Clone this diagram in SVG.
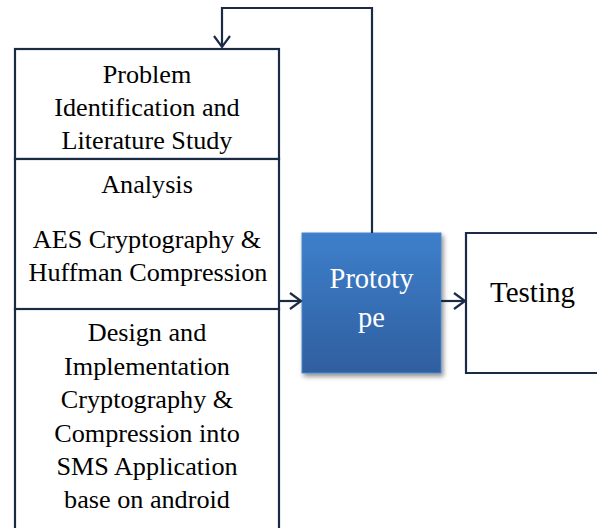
<svg xmlns="http://www.w3.org/2000/svg" width="597" height="528" viewBox="0 0 597 528">
<style>
.box{fill:#fff;stroke:#1c2b45;stroke-width:2.2}
.ln{fill:none;stroke:#1c2b45;stroke-width:2.2}
text{font-family:'Liberation Serif','Times New Roman',Times,serif}
.t{font-size:26.2px;fill:#000;text-anchor:middle}
.tw{font-size:28.5px;fill:#fff;text-anchor:middle}
.tb{font-size:29px;fill:#000}
</style>
<defs>
<linearGradient id="g" x1="0" y1="0" x2="0" y2="1">
<stop offset="0" stop-color="#3d7fcb"/>
<stop offset="1" stop-color="#2f5f9f"/>
</linearGradient>
<filter id="sh" x="-10%" y="-10%" width="130%" height="130%">
<feGaussianBlur in="SourceAlpha" stdDeviation="2.5"/>
<feOffset dx="2" dy="3" result="b"/>
<feComponentTransfer><feFuncA type="linear" slope="0.45"/></feComponentTransfer>
<feMerge><feMergeNode/><feMergeNode in="SourceGraphic"/></feMerge>
</filter>
<marker id="a" markerWidth="14" markerHeight="18" refX="12" refY="9" orient="auto" markerUnits="userSpaceOnUse">
<path d="M1,1 L12,9 L1,17" fill="none" stroke="#1c2b45" stroke-width="2.2"/>
</marker>
</defs>
<g id="n1">
<rect class="box" x="15" y="49" width="264" height="110"/>
<text class="t" x="147" y="83">Problem</text>
<text class="t" x="147" y="116">Identification and</text>
<text class="t" x="147" y="149">Literature Study</text>
</g>
<g id="n2">
<rect class="box" x="15" y="159" width="264" height="150"/>
<text class="t" x="147" y="193">Analysis</text>
<text class="t" x="147" y="248">AES Cryptography &amp;</text>
<text class="t" x="148" y="281">Huffman Compression</text>
</g>
<g id="n3">
<path class="ln" d="M15,540 V309 H279 V540"/>
<text class="t" x="147" y="341">Design and</text>
<text class="t" x="147" y="375">Implementation</text>
<text class="t" x="147" y="408">Cryptography &amp;</text>
<text class="t" x="147" y="442">Compression into</text>
<text class="t" x="147" y="475">SMS Application</text>
<text class="t" x="147" y="508">base on android</text>
</g>
<g id="n4">
<rect x="302" y="233" width="139" height="140" fill="url(#g)" stroke="#4a86c9" stroke-width="1" filter="url(#sh)"/>
<text class="tw" x="371.5" y="288">Prototy</text>
<text class="tw" x="371.5" y="327">pe</text>
</g>
<g id="n5">
<path class="box" d="M600,233 H466 V373 H600"/>
<text class="tb" x="490" y="302">Testing</text>
</g>
<g id="connectors">
<path class="ln" d="M372,233 V8 H222 V47" marker-end="url(#a)"/>
<path class="ln" d="M279,301 H301" marker-end="url(#a)"/>
<path class="ln" d="M441,301 H465" marker-end="url(#a)"/>
</g>
</svg>
